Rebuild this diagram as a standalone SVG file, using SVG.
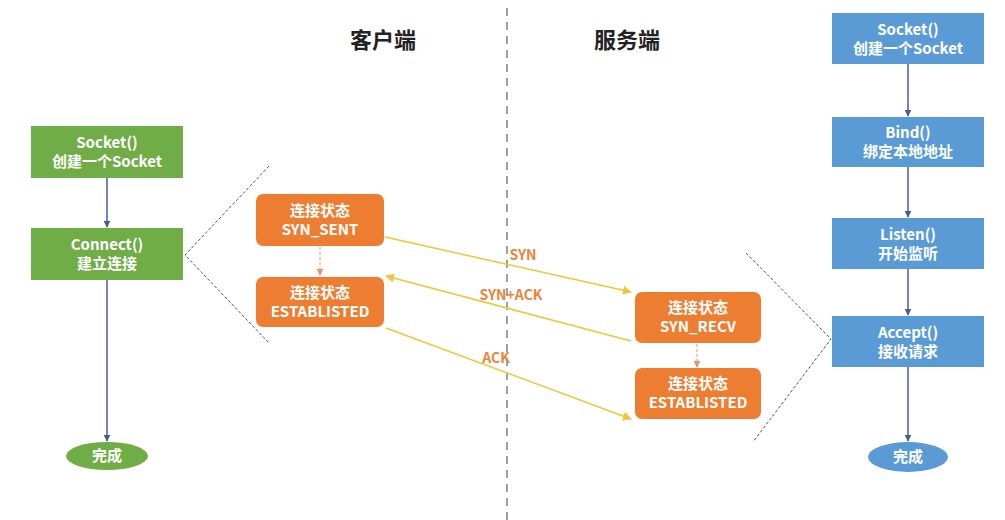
<svg xmlns="http://www.w3.org/2000/svg" width="1005" height="520" viewBox="0 0 1005 520">
<defs>
<style>
.t{font-family:"Noto Sans CJK SC","Noto Sans",sans-serif;font-weight:bold;font-size:15px;fill:#fff;text-anchor:middle}
.title{font-family:"Noto Sans CJK SC",sans-serif;font-weight:bold;font-size:22px;fill:#222;text-anchor:middle}
.lbl{font-family:"Noto Sans CJK SC","Noto Sans",sans-serif;font-weight:bold;font-size:14px;fill:#e8843c;text-anchor:middle}
.g{fill:#70ad47}
.b{fill:#5b9bd5}
.o{fill:#ed7d31}
.flow{stroke:#4a5c96;stroke-width:1.5;fill:none;marker-end:url(#ab)}
.yl{stroke:#f3c436;stroke-width:1.5;fill:none;marker-end:url(#ay)}
.od{stroke:#e9936a;stroke-width:1;stroke-dasharray:3 2;fill:none;marker-end:url(#ao)}
.tri{stroke:#555;stroke-width:1;stroke-dasharray:3 2;fill:none}
</style>
<marker id="ab" viewBox="0 0 10 10" refX="9" refY="5" markerWidth="7" markerHeight="7" orient="auto" markerUnits="userSpaceOnUse"><path d="M0,0L10,5L0,10z" fill="#4a5c96"/></marker>
<marker id="ay" viewBox="0 0 10 10" refX="9" refY="5" markerWidth="9" markerHeight="9" orient="auto" markerUnits="userSpaceOnUse"><path d="M0,0L10,5L0,10z" fill="#f3c436"/></marker>
<marker id="ao" viewBox="0 0 10 10" refX="9" refY="5" markerWidth="7" markerHeight="7" orient="auto" markerUnits="userSpaceOnUse"><path d="M0,0L10,5L0,10z" fill="#e9936a"/></marker>
</defs>
<rect width="1005" height="520" fill="#fff"/>
<line x1="507" y1="8" x2="507" y2="520" stroke="#a0a0a0" stroke-width="2" stroke-dasharray="8 6"/>
<text class="title" x="383" y="48">客户端</text>
<text class="title" x="627" y="48">服务端</text>
<g id="connectors">
<line class="flow" x1="107" y1="178" x2="107" y2="227"/>
<line class="flow" x1="107" y1="280" x2="107" y2="441"/>
<line class="flow" x1="908" y1="64" x2="908" y2="116"/>
<line class="flow" x1="908" y1="167" x2="908" y2="217"/>
<line class="flow" x1="908" y1="269" x2="908" y2="315"/>
<line class="flow" x1="908" y1="367" x2="908" y2="441"/>
<line class="od" x1="320" y1="247" x2="320" y2="275"/>
<line class="od" x1="697" y1="344" x2="697" y2="367"/>
<line class="yl" x1="385" y1="237" x2="631" y2="292"/>
<line class="yl" x1="631" y1="341" x2="386" y2="276"/>
<line class="yl" x1="386" y1="328" x2="631" y2="419"/>
<polyline class="tri" points="269,166 185,255 269,343"/>
<polyline class="tri" points="746,253 831,339 753,442"/>
<text class="lbl" x="523" y="260">SYN</text>
<text class="lbl" x="511" y="300">SYN+ACK</text>
<text class="lbl" x="496" y="363">ACK</text>
</g>
<g id="c-socket"><rect class="g" x="31" y="126" width="152" height="52"/><text class="t" x="107" y="148">Socket()</text><text class="t" x="107" y="167">创建一个Socket</text></g>
<g id="c-connect"><rect class="g" x="31" y="228" width="152" height="52"/><text class="t" x="107" y="250">Connect()</text><text class="t" x="107" y="269">建立连接</text></g>
<g id="c-done"><ellipse class="g" cx="107" cy="456" rx="41" ry="14"/><text class="t" x="107" y="461">完成</text></g>
<g id="c-synsent"><rect class="o" x="256" y="194" width="128" height="52" rx="7"/><text class="t" x="320" y="216">连接状态</text><text class="t" x="320" y="235">SYN_SENT</text></g>
<g id="c-est"><rect class="o" x="256" y="277" width="128" height="50" rx="7"/><text class="t" x="320" y="298">连接状态</text><text class="t" x="320" y="317">ESTABLISTED</text></g>
<g id="s-synrecv"><rect class="o" x="635" y="292" width="126" height="51" rx="7"/><text class="t" x="698" y="313">连接状态</text><text class="t" x="698" y="332">SYN_RECV</text></g>
<g id="s-est"><rect class="o" x="635" y="368" width="126" height="51" rx="7"/><text class="t" x="698" y="389">连接状态</text><text class="t" x="698" y="408">ESTABLISTED</text></g>
<g id="s-socket"><rect class="b" x="832" y="13" width="152" height="51"/><text class="t" x="908" y="35">Socket()</text><text class="t" x="908" y="54">创建一个Socket</text></g>
<g id="s-bind"><rect class="b" x="832" y="117" width="152" height="50"/><text class="t" x="908" y="138">Bind()</text><text class="t" x="908" y="157">绑定本地地址</text></g>
<g id="s-listen"><rect class="b" x="832" y="218" width="152" height="51"/><text class="t" x="908" y="240">Listen()</text><text class="t" x="908" y="259">开始监听</text></g>
<g id="s-accept"><rect class="b" x="832" y="316" width="152" height="51"/><text class="t" x="908" y="338">Accept()</text><text class="t" x="908" y="357">接收请求</text></g>
<g id="s-done"><ellipse class="b" cx="908" cy="457" rx="40" ry="15"/><text class="t" x="908" y="462">完成</text></g>
</svg>
